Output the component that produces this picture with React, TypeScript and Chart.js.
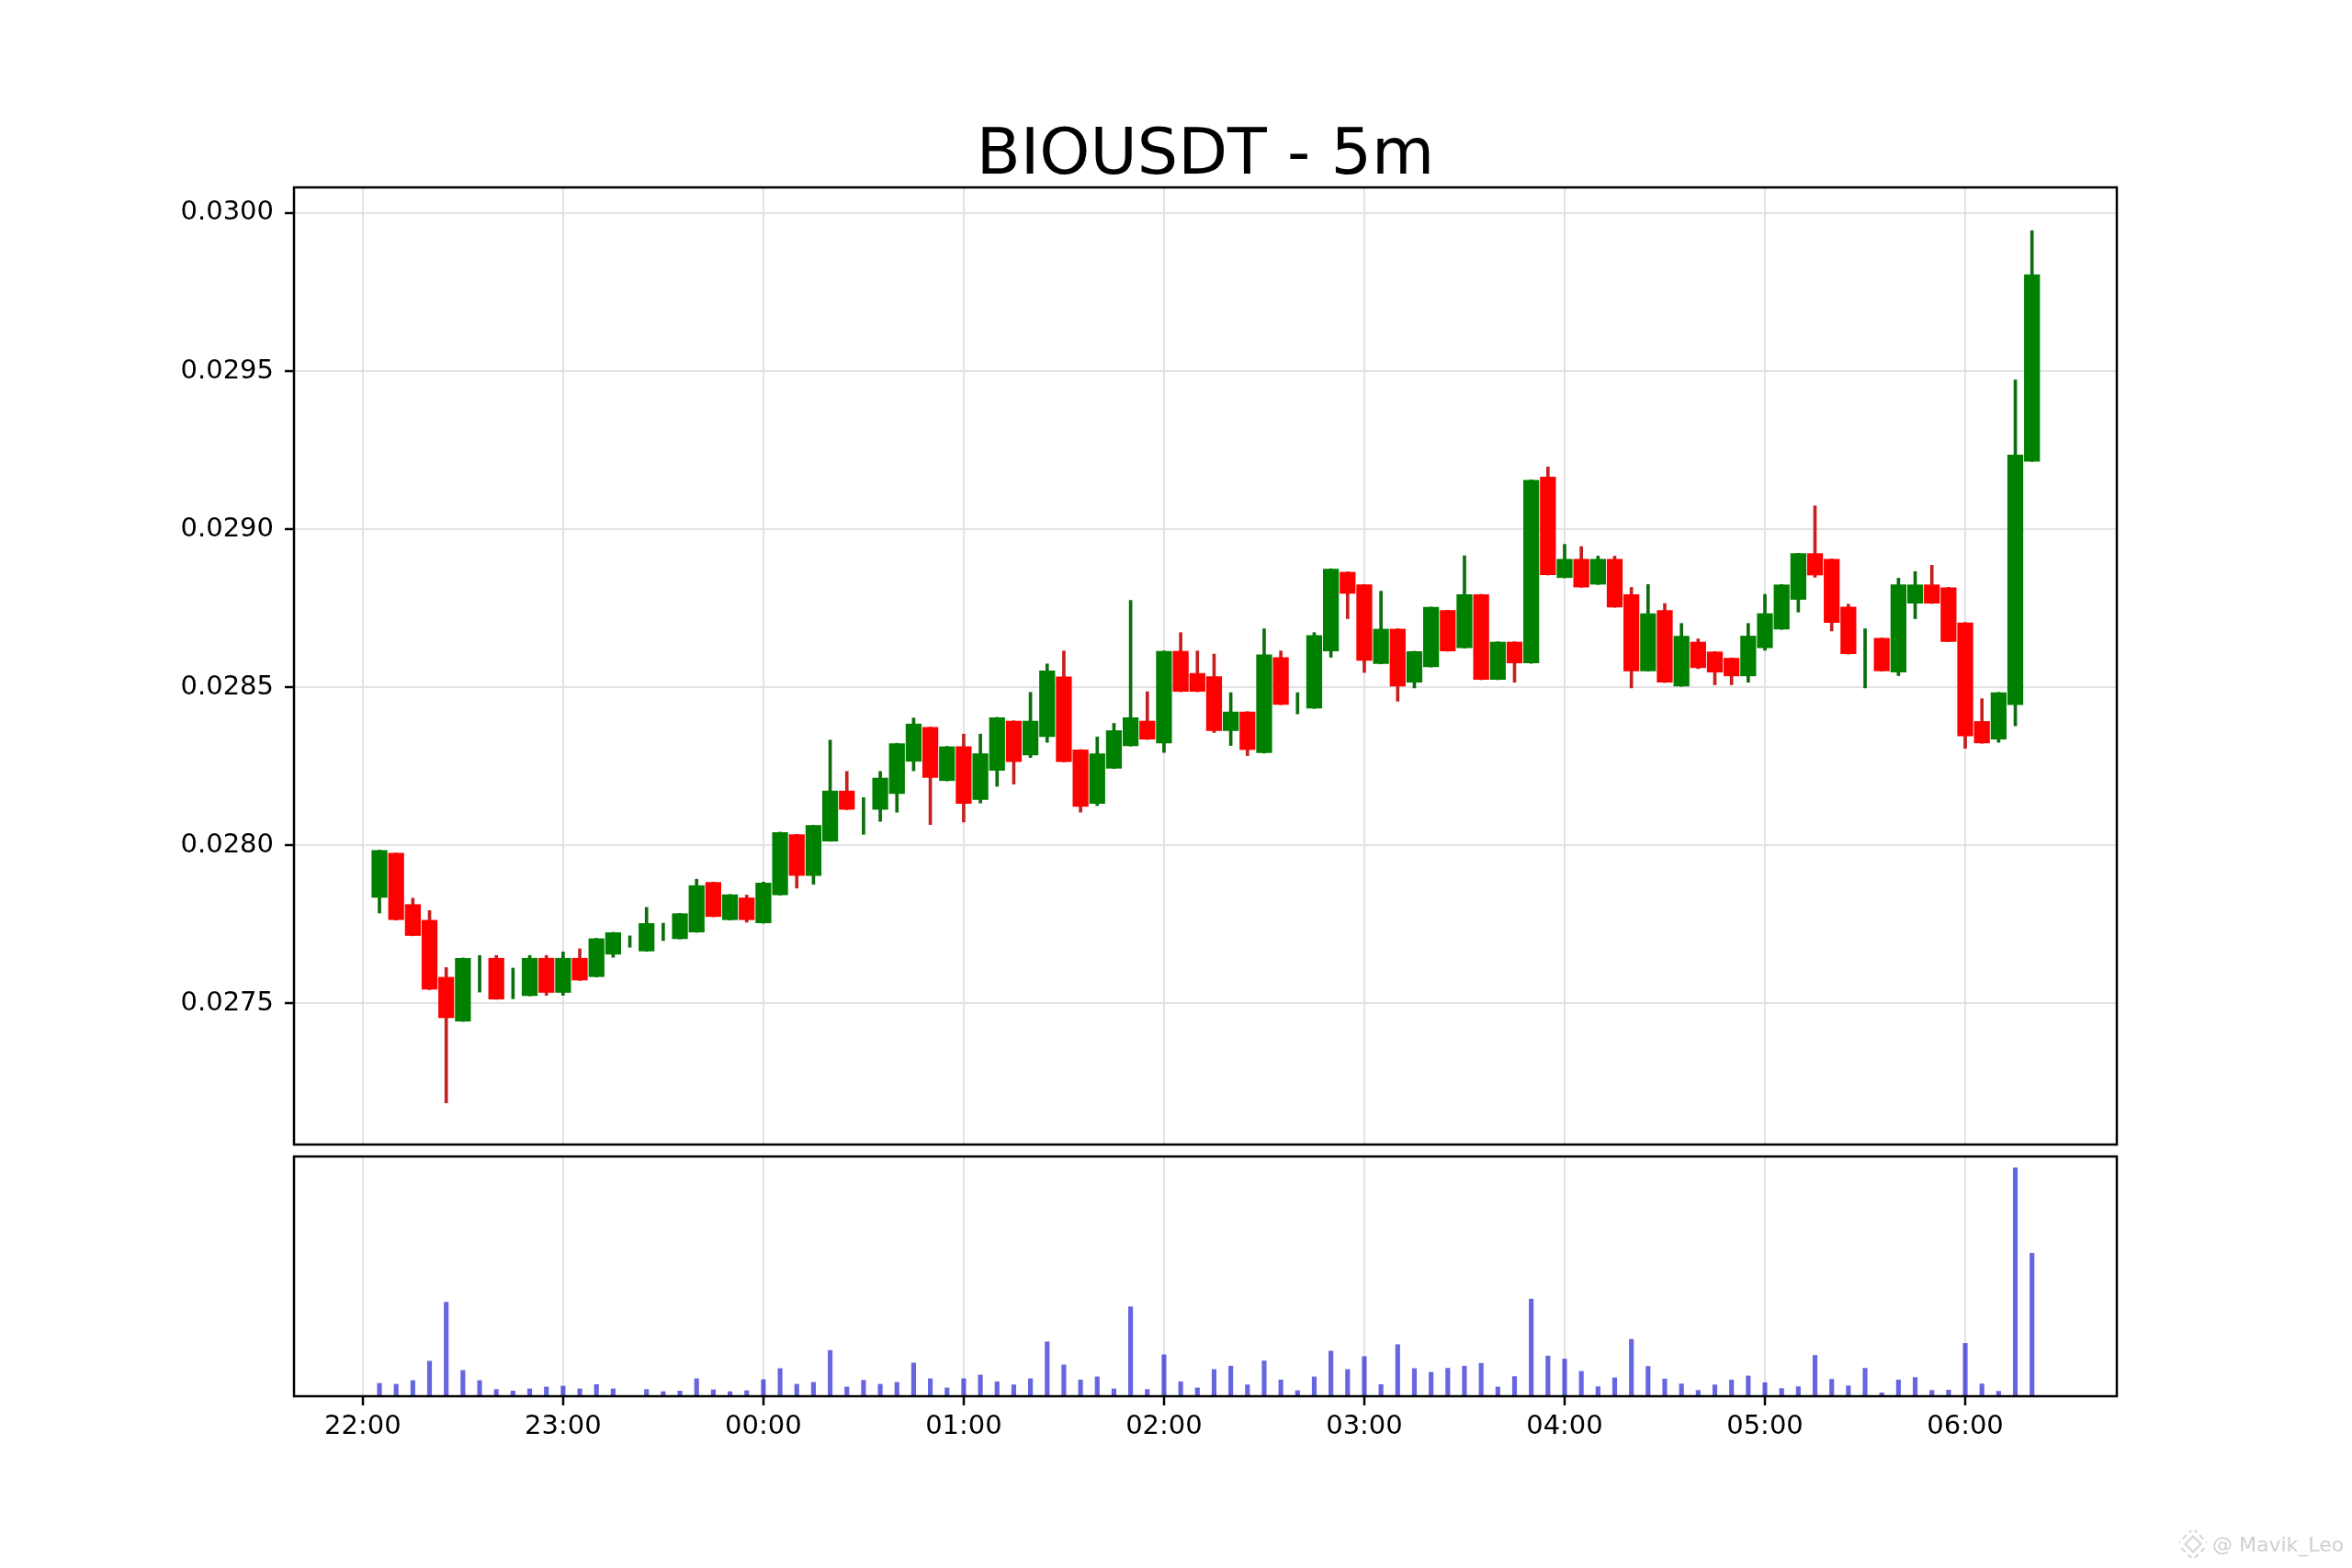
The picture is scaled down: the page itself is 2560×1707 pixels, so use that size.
import React, { useEffect, useRef } from "react";
import { Chart, registerables } from "chart.js";

Chart.register(...registerables);

const TITLE = "BIOUSDT - 5m";

const TIMES = [
  "22:05", "22:10", "22:15", "22:20", "22:25", "22:30", "22:35", "22:40", "22:45", "22:50", "22:55",
  "23:00", "23:05", "23:10", "23:15", "23:20", "23:25", "23:30", "23:35", "23:40", "23:45", "23:50", "23:55",
  "00:00", "00:05", "00:10", "00:15", "00:20", "00:25", "00:30", "00:35", "00:40", "00:45", "00:50", "00:55",
  "01:00", "01:05", "01:10", "01:15", "01:20", "01:25", "01:30", "01:35", "01:40", "01:45", "01:50", "01:55",
  "02:00", "02:05", "02:10", "02:15", "02:20", "02:25", "02:30", "02:35", "02:40", "02:45", "02:50", "02:55",
  "03:00", "03:05", "03:10", "03:15", "03:20", "03:25", "03:30", "03:35", "03:40", "03:45", "03:50", "03:55",
  "04:00", "04:05", "04:10", "04:15", "04:20", "04:25", "04:30", "04:35", "04:40", "04:45", "04:50", "04:55",
  "05:00", "05:05", "05:10", "05:15", "05:20", "05:25", "05:30", "05:35", "05:40", "05:45", "05:50", "05:55",
  "06:00", "06:05", "06:10", "06:15", "06:20",
];

const OPEN = [
  0.027835, 0.027976, 0.027814, 0.027764, 0.027584, 0.027443, 0.0276, 0.027644, 0.02756, 0.027524, 0.027644,
  0.027534, 0.027644, 0.027584, 0.027655, 0.0277, 0.027665, 0.02773, 0.027704, 0.027725, 0.027884, 0.027764, 0.027835,
  0.027754, 0.027843, 0.028035, 0.027904, 0.028013, 0.028173, 0.0281, 0.028113, 0.028163, 0.028265, 0.028374, 0.028204,
  0.028313, 0.028144, 0.028236, 0.028394, 0.028285, 0.028343, 0.028534, 0.028303, 0.028132, 0.028243, 0.028314, 0.028394,
  0.028323, 0.028615, 0.028545, 0.028535, 0.028362, 0.028423, 0.028292, 0.028595, 0.02845, 0.028433, 0.028614, 0.028865,
  0.028825, 0.028574, 0.028685, 0.028515, 0.028564, 0.028744, 0.028624, 0.028794, 0.028524, 0.028644, 0.028576, 0.029166,
  0.028846, 0.028906, 0.028825, 0.028906, 0.028794, 0.028551, 0.028744, 0.028503, 0.028644, 0.028613, 0.028593, 0.028535,
  0.028624, 0.028683, 0.028777, 0.028924, 0.028906, 0.028755, 0.0286, 0.028656, 0.028547, 0.028765, 0.028825, 0.028816,
  0.028705, 0.028393, 0.028335, 0.028444, 0.029214,
];

const HIGH = [
  0.027985, 0.027976, 0.027833, 0.027794, 0.027614, 0.027644, 0.027652, 0.027652, 0.027612, 0.027652, 0.027652,
  0.027663, 0.027673, 0.027706, 0.027725, 0.027714, 0.027804, 0.027754, 0.027785, 0.027893, 0.027884, 0.027845, 0.027843,
  0.027884, 0.028042, 0.028035, 0.028064, 0.028333, 0.028234, 0.028151, 0.028234, 0.028323, 0.028403, 0.028374, 0.028313,
  0.028352, 0.028352, 0.028405, 0.028394, 0.028484, 0.028574, 0.028615, 0.028303, 0.028343, 0.028386, 0.028775, 0.028486,
  0.028615, 0.028673, 0.028615, 0.028605, 0.028483, 0.028423, 0.028685, 0.028615, 0.028483, 0.028673, 0.028875, 0.028865,
  0.028825, 0.028804, 0.028685, 0.028614, 0.028754, 0.028744, 0.028916, 0.028794, 0.028644, 0.028644, 0.029156, 0.029197,
  0.028952, 0.028945, 0.028915, 0.028915, 0.028816, 0.028825, 0.028765, 0.028702, 0.028653, 0.028613, 0.028593, 0.028702,
  0.028794, 0.028825, 0.028924, 0.029074, 0.028906, 0.028763, 0.028685, 0.028656, 0.028845, 0.028866, 0.028886, 0.028816,
  0.028705, 0.028464, 0.028484, 0.029472, 0.029944,
];

const LOW = [
  0.027786, 0.027764, 0.027714, 0.027544, 0.027186, 0.027443, 0.027536, 0.027513, 0.027515, 0.027524, 0.027526,
  0.027526, 0.027573, 0.027584, 0.027646, 0.027678, 0.027665, 0.027699, 0.027704, 0.027725, 0.027774, 0.027764, 0.027757,
  0.027754, 0.027843, 0.027865, 0.027877, 0.028013, 0.028113, 0.028035, 0.028076, 0.028105, 0.028236, 0.028066, 0.028204,
  0.028074, 0.028134, 0.028187, 0.028194, 0.028278, 0.028326, 0.028264, 0.028105, 0.028126, 0.028243, 0.028314, 0.028335,
  0.028294, 0.028486, 0.028486, 0.028357, 0.028316, 0.028284, 0.028292, 0.028445, 0.028416, 0.028433, 0.028595, 0.028717,
  0.028547, 0.028574, 0.028456, 0.028498, 0.028564, 0.028614, 0.028624, 0.028524, 0.028524, 0.028516, 0.028576, 0.028855,
  0.028846, 0.028816, 0.028825, 0.028753, 0.028498, 0.028551, 0.028515, 0.028503, 0.028559, 0.028508, 0.028508, 0.028516,
  0.028617, 0.028683, 0.028738, 0.028848, 0.028678, 0.028605, 0.028498, 0.028551, 0.028537, 0.028717, 0.028765, 0.028644,
  0.028307, 0.028323, 0.028326, 0.028378, 0.029214,
];

const CLOSE = [
  0.027985, 0.027764, 0.027714, 0.027544, 0.027454, 0.027644, 0.0276, 0.027513, 0.02756, 0.027644, 0.027534,
  0.027644, 0.027573, 0.027706, 0.027725, 0.0277, 0.027754, 0.02773, 0.027785, 0.027874, 0.027774, 0.027845, 0.027764,
  0.027882, 0.028042, 0.027904, 0.028064, 0.028173, 0.028113, 0.0281, 0.028214, 0.028323, 0.028385, 0.028214, 0.028313,
  0.028132, 0.028291, 0.028405, 0.028264, 0.028394, 0.028553, 0.028264, 0.028122, 0.028291, 0.028364, 0.028405, 0.028335,
  0.028615, 0.028486, 0.028486, 0.028362, 0.028423, 0.028302, 0.028604, 0.028445, 0.02845, 0.028665, 0.028875, 0.028796,
  0.028584, 0.028685, 0.028503, 0.028614, 0.028754, 0.028614, 0.028794, 0.028524, 0.028644, 0.028576, 0.029156, 0.028855,
  0.028906, 0.028816, 0.028906, 0.028753, 0.028551, 0.028734, 0.028515, 0.028663, 0.028561, 0.028547, 0.028535, 0.028663,
  0.028734, 0.028825, 0.028924, 0.028854, 0.028704, 0.028605, 0.0286, 0.028551, 0.028825, 0.028825, 0.028765, 0.028644,
  0.028345, 0.028323, 0.028484, 0.029236, 0.029806,
];

const VOLUME = [
  42, 39, 51, 114, 306, 84, 51, 22, 17, 24, 30,
  33, 24, 38, 24, 2, 22, 15, 17, 57, 21, 15, 18,
  54, 90, 39, 45, 149, 30, 52, 39, 45, 108, 57, 27,
  57, 69, 47, 37, 57, 177, 102, 53, 63, 24, 291, 22,
  135, 47, 27, 87, 98, 37, 115, 53, 18, 63, 147, 87,
  129, 38, 168, 90, 78, 91, 98, 107, 30, 64, 316, 131,
  121, 81, 31, 60, 185, 97, 56, 40, 19, 37, 53, 66,
  44, 25, 31, 133, 55, 34, 91, 11, 53, 61, 19, 20,
  172, 40, 16, 743, 465,
];

const X_TICK_LABELS = ["22:00", "23:00", "00:00", "01:00", "02:00", "03:00", "04:00", "05:00", "06:00"];
const Y_TICKS = [0.0275, 0.028, 0.0285, 0.029, 0.0295, 0.03];

const FONT = "'DejaVu Sans', 'Liberation Sans', sans-serif";
const GRID = "#e3e3e3";
const UP = "#008000";
const DOWN = "#ff0000";
const UP_WICK = "#0b6e0b";
const DOWN_WICK = "#c42020";
const VOL_COLOR = "rgba(0, 0, 205, 0.6)";

const W = 2560;
const PLOT_LEFT = 320;
const PLOT_RIGHT = 2304;
const X_MIN = -20.6;
const X_MAX = 525.4;

function toMinutes(t: string): number {
  const [h, m] = t.split(":").map(Number);
  return ((h - 22 + 24) % 24) * 60 + m;
}

const X_TICK_VALUES = X_TICK_LABELS.map(toMinutes);

const framePlugin = {
  id: "frame",
  afterDraw(chart: any) {
    const { ctx, chartArea: a } = chart;
    ctx.save();
    ctx.strokeStyle = "#000";
    ctx.lineWidth = 2.5;
    ctx.strokeRect(a.left, a.top, a.right - a.left, a.bottom - a.top);
    ctx.restore();
  },
};

export default function App() {
  const priceRef = useRef<HTMLCanvasElement | null>(null);
  const volRef = useRef<HTMLCanvasElement | null>(null);

  useEffect(() => {
    const xs = TIMES.map(toMinutes);
    const up = OPEN.map((o, i) => CLOSE[i] >= o);

    const priceChart = new Chart(priceRef.current as HTMLCanvasElement, {
      type: "bar",
      data: {
        datasets: [
          {
            label: "body",
            data: xs.map((x, i) => ({ x, y: [OPEN[i], CLOSE[i]] })) as any,
            backgroundColor: up.map((u) => (u ? UP : DOWN)),
            borderWidth: 0,
            grouped: false,
            barPercentage: 0.95,
            categoryPercentage: 1,
            order: 0,
          } as any,
          {
            label: "wick",
            data: xs.map((x, i) => ({ x, y: [LOW[i], HIGH[i]] })) as any,
            backgroundColor: up.map((u) => (u ? UP_WICK : DOWN_WICK)),
            borderWidth: 0,
            grouped: false,
            barThickness: 3,
            order: 1,
          } as any,
        ],
      },
      options: {
        animation: false,
        responsive: false,
        devicePixelRatio: 1,
        layout: { padding: { top: 204, right: W - PLOT_RIGHT, bottom: 30, left: 0 } },
        plugins: { legend: { display: false }, tooltip: { enabled: false }, title: { display: false } },
        scales: {
          x: {
            type: "linear",
            min: X_MIN,
            max: X_MAX,
            offset: false,
            grid: { color: GRID, lineWidth: 2, drawTicks: false, offset: false },
            border: { display: false },
            ticks: { display: false },
            afterBuildTicks: (s: any) => {
              s.ticks = X_TICK_VALUES.map((v) => ({ value: v }));
            },
            afterFit: (s: any) => {
              s.height = 0;
            },
          } as any,
          y: {
            type: "linear",
            min: 0.027054,
            max: 0.030081,
            grid: { color: GRID, lineWidth: 2, tickColor: "#000", tickLength: 10, tickWidth: 2.5 },
            border: { display: false },
            ticks: {
              color: "#000",
              padding: 12,
              font: { family: FONT, size: 29 },
              callback: (v: any) => Number(v).toFixed(4),
            },
            afterBuildTicks: (s: any) => {
              s.ticks = Y_TICKS.map((v) => ({ value: v }));
            },
            afterFit: (s: any) => {
              s.width = PLOT_LEFT;
            },
          } as any,
        },
      },
      plugins: [framePlugin],
    });

    const volChart = new Chart(volRef.current as HTMLCanvasElement, {
      type: "bar",
      data: {
        datasets: [
          {
            label: "volume",
            data: xs.map((x, i) => ({ x, y: VOLUME[i] })) as any,
            backgroundColor: VOL_COLOR,
            borderWidth: 0,
            barThickness: 4.5,
          } as any,
        ],
      },
      options: {
        animation: false,
        responsive: false,
        devicePixelRatio: 1,
        layout: { padding: { top: 9, right: W - PLOT_RIGHT, bottom: 0, left: 0 } },
        plugins: { legend: { display: false }, tooltip: { enabled: false } },
        scales: {
          x: {
            type: "linear",
            min: X_MIN,
            max: X_MAX,
            offset: false,
            grid: { color: GRID, lineWidth: 2, tickColor: "#000", tickLength: 10, tickWidth: 2.5, offset: false },
            border: { display: false },
            ticks: {
              color: "#000",
              padding: 6,
              autoSkip: false,
              maxRotation: 0,
              font: { family: FONT, size: 29 },
              callback: (v: any) => {
                const k = X_TICK_VALUES.indexOf(Number(v));
                return k >= 0 ? X_TICK_LABELS[k] : "";
              },
            },
            afterBuildTicks: (s: any) => {
              s.ticks = X_TICK_VALUES.map((v) => ({ value: v }));
            },
            afterFit: (s: any) => {
              s.height = 187;
            },
          } as any,
          y: {
            type: "linear",
            min: 0,
            max: 780,
            grid: { display: false },
            border: { display: false },
            ticks: { display: false },
            afterFit: (s: any) => {
              s.width = PLOT_LEFT;
            },
          } as any,
        },
      },
      plugins: [framePlugin],
    });

    return () => {
      priceChart.destroy();
      volChart.destroy();
    };
  }, []);

  return (
    <div style={{ position: "absolute", left: 0, top: 0, width: W, height: 1707, background: "#fff", overflow: "hidden" }}>
      <div
        style={{
          position: "absolute",
          left: 712,
          top: 130,
          width: 1200,
          textAlign: "center",
          fontFamily: FONT,
          fontSize: 70,
          lineHeight: "70px",
          color: "#000",
          whiteSpace: "nowrap",
        }}
      >
        {TITLE}
      </div>
      <canvas ref={volRef} width={W} height={457} style={{ position: "absolute", left: 0, top: 1250, width: W, height: 457 }} />
      <canvas ref={priceRef} width={W} height={1276} style={{ position: "absolute", left: 0, top: 0, width: W, height: 1276 }} />
      <div style={{ position: "absolute", left: 2372, top: 1666, display: "flex", alignItems: "center", color: "#cfcfcf" }}>
        <svg width="30" height="30" viewBox="0 0 30 30" style={{ marginRight: 6 }}>
          <g fill="none" stroke="#d4d4d4" strokeWidth="2">
            <rect x="9" y="9" width="12" height="12" transform="rotate(45 15 15)" />
            <rect x="3" y="3" width="24" height="24" transform="rotate(45 15 15)" strokeDasharray="6 4" />
          </g>
        </svg>
        <span style={{ fontFamily: FONT, fontSize: 22 }}>@ Mavik_Leo</span>
      </div>
    </div>
  );
}
